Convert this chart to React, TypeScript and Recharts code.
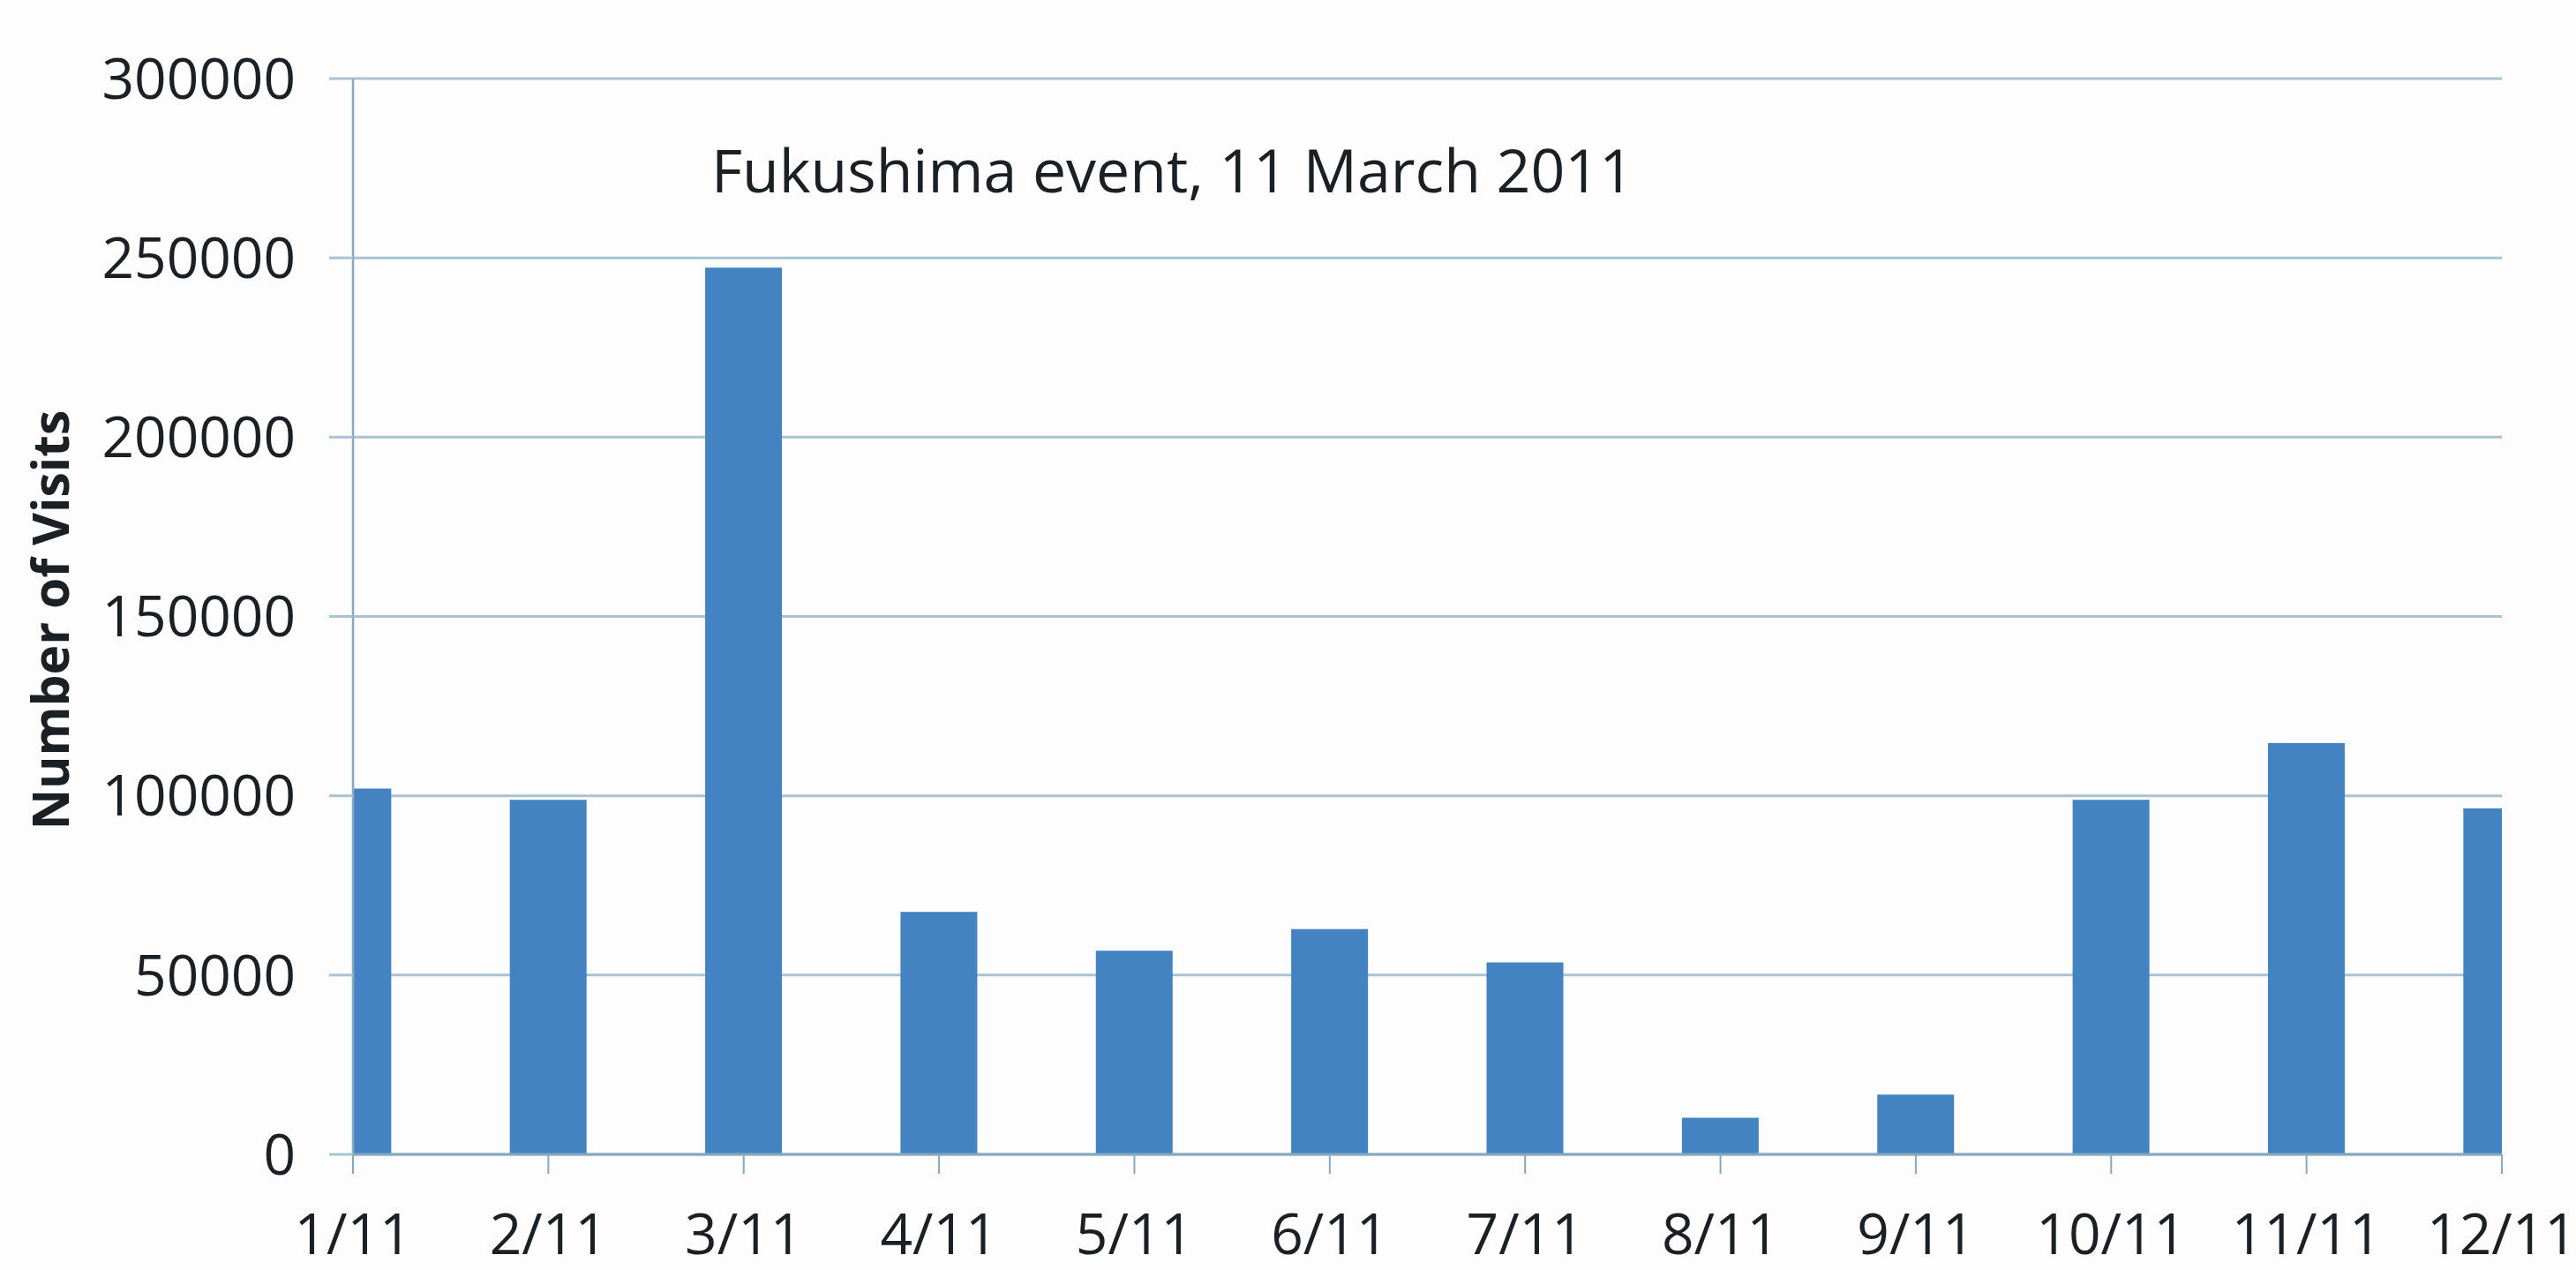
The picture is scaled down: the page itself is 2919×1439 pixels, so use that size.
import React from 'react';
import { BarChart, Bar, XAxis, YAxis, CartesianGrid } from 'recharts';

const months = ['1/11', '2/11', '3/11', '4/11', '5/11', '6/11', '7/11', '8/11', '9/11', '10/11', '11/11', '12/11'];
const monthIndex = [1, 2, 3, 4, 5, 6, 7, 8, 9, 10, 11, 12];
const visits = [102000, 98900, 247300, 67600, 56800, 62800, 53500, 10200, 16700, 98900, 114700, 96500];
const yTicks = [0, 50000, 100000, 150000, 200000, 250000, 300000];
const yAxisTitle = 'Number of Visits';
const annotation = 'Fukushima event, 11 March 2011';

const data = monthIndex.map((m, i) => ({ m, label: months[i], visits: visits[i] }));

const FONT = '"Open Sans", "DejaVu Sans", sans-serif';
const TEXT = '#1b2024';
const GRID = '#a9c3d3';
const AXIS = '#86a9c0';
const BAR = '#4483c1';

const YTitle = (props: any) => {
  const vb = props.viewBox || { x: 0, y: 0, width: 0, height: 0 };
  const cx = vb.x + 56;
  const cy = vb.y + vb.height / 2 + 4;
  return (
    <text
      x={cx}
      y={cy}
      transform={`rotate(-90 ${cx} ${cy})`}
      textAnchor="middle"
      dominantBaseline="central"
      fontFamily={FONT}
      fontWeight={700}
      fontSize={57}
      fill={TEXT}
    >
      {yAxisTitle}
    </text>
  );
};

export default function App() {
  return (
    <div style={{ position: 'absolute', left: 0, top: 0, width: 2919, height: 1439, background: '#fdfdfe' }}>
      <BarChart
        width={2919}
        height={1439}
        data={data}
        margin={{ top: 89, right: 84, bottom: 0, left: 0 }}
      >
        <CartesianGrid vertical={false} stroke={GRID} strokeWidth={3} />
        <XAxis
          dataKey="m"
          type="number"
          domain={[1, 12]}
          allowDataOverflow
          ticks={monthIndex}
          interval={0}
          tickFormatter={(v: number) => months[v - 1]}
          height={131}
          tickSize={22}
          tickMargin={46}
          axisLine={{ stroke: AXIS, strokeWidth: 3 }}
          tickLine={{ stroke: AXIS, strokeWidth: 2 }}
          tick={{ fontSize: 64, fill: TEXT, fontFamily: FONT }}
        />
        <YAxis
          type="number"
          domain={[0, 300000]}
          ticks={yTicks}
          interval={0}
          width={400}
          tickSize={27}
          tickMargin={38}
          axisLine={{ stroke: AXIS, strokeWidth: 2.5 }}
          tickLine={{ stroke: GRID, strokeWidth: 3 }}
          tick={{ fontSize: 64, fill: TEXT, fontFamily: FONT }}
          tickFormatter={(v: number) => String(v)}
          label={{ content: YTitle }}
        />
        <Bar dataKey="visits" fill={BAR} barSize={87} isAnimationActive={false} />
        <text x={806} y={218} fontFamily={FONT} fontSize={68} fill={TEXT}>
          {annotation}
        </text>
      </BarChart>
    </div>
  );
}
